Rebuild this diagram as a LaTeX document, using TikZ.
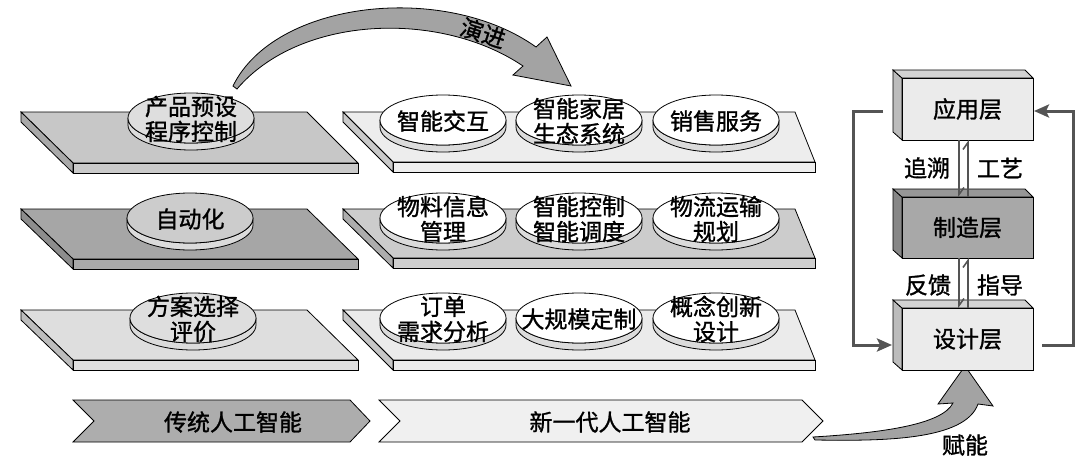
\documentclass[tikz,border=0pt]{standalone}
\usepackage{fontspec}
\newfontfamily\cjk{Noto Sans CJK SC}[FakeBold=1.2]
\usetikzlibrary{arrows.meta}
\definecolor{plA}{gray}{0.78}
\definecolor{plB}{gray}{0.65}
\definecolor{plC}{gray}{0.87}
\definecolor{prA}{gray}{0.93}
\definecolor{prB}{gray}{0.80}
\definecolor{prC}{gray}{0.92}
\definecolor{rimc}{gray}{0.86}
\definecolor{arrowgray}{gray}{0.64}
\definecolor{loopgray}{gray}{0.33}
\definecolor{boxL}{gray}{0.92}
\definecolor{boxD}{gray}{0.66}
\definecolor{chevD}{gray}{0.68}
\definecolor{chevL}{gray}{0.94}
\newcommand\mydisc[3]{%
  \filldraw[fill=rimc,line width=0.8pt] (#1-63,#2) -- (#1-63,#2+7)
    arc[start angle=180,end angle=0,x radius=63,y radius=25] -- (#1+63,#2)
    arc[start angle=0,end angle=180,x radius=63,y radius=25] -- cycle;
  \filldraw[fill=#3,line width=0.8pt] (#1,#2) ellipse[x radius=63,y radius=25];
}
\newcommand\plateL[3]{%
  \filldraw[fill=#3,line width=0.8pt] (21,#1) -- (307,#1) -- (358,#2) -- (73,#2) -- cycle;
  \filldraw[fill=#3!85!black,line width=0.8pt] (21,#1) -- (73,#2) -- (73,#2+10) -- (21,#1+10) -- cycle;
  \filldraw[fill=#3!95!white,line width=0.8pt] (73,#2) -- (358,#2) -- (358,#2+10) -- (73,#2+10) -- cycle;
}
\newcommand\plateR[3]{%
  \filldraw[fill=#3,line width=0.8pt] (343,#1) -- (795,#1) -- (815,#2) -- (393,#2) -- cycle;
  \filldraw[fill=#3!85!black,line width=0.8pt] (343,#1) -- (393,#2) -- (393,#2+10) -- (343,#1+10) -- cycle;
  \filldraw[fill=#3!95!white,line width=0.8pt] (393,#2) -- (815,#2) -- (815,#2+10) -- (393,#2+10) -- cycle;
}
% #1 top y of front, #2 bottom y of front, #3 fill
\newcommand\layerbox[3]{%
  \filldraw[fill=#3!80!black,line width=0.8pt] (893,#1-8) -- (902,#1) -- (902,#2) -- (893,#2-8) -- cycle;
  \filldraw[fill=#3!90!black,line width=0.8pt] (893,#1-8) -- (1025,#1-8) -- (1033,#1) -- (902,#1) -- cycle;
}
\tikzset{
  lbl/.style={font=\cjk\fontsize{23}{25}\selectfont, align=center, inner sep=0pt},
  frontbox/.style={draw, line width=0.8pt, minimum width=131pt, inner sep=0pt},
  loopline/.style={draw=loopgray, line width=3pt, -{Stealth[length=15pt,width=13pt,inset=3pt]}},
  harp/.style={draw=loopgray, line width=1.6pt},
  bigarrow/.style={fill=arrowgray, draw=black, line width=0.8pt},
}
\begin{document}
\begin{tikzpicture}[x=1pt,y=-1pt]
\useasboundingbox (0,0) rectangle (1080,458);
\fill[white] (0,0) rectangle (1080,458);

% ---- plates
\plateL{112}{163}{plA}
\plateL{209}{259}{plB}
\plateL{310}{360}{plC}
\plateR{112}{162}{prA}
\plateR{209}{258}{prB}
\plateR{310}{360}{prC}

% ---- discs
\mydisc{191}{118}{black!13}
\mydisc{190}{218}{black!20}
\mydisc{193}{318}{black!13}
\foreach \cy in {120,218,318}{
  \mydisc{443}{\cy}{white}
  \mydisc{579}{\cy}{white}
  \mydisc{716}{\cy}{white}
}

\node[lbl] (a1) at (191,119) {产品预设\\程序控制};
\node[lbl] (a2) at (190,219) {自动化};
\node[lbl] (a3) at (193,319) {方案选择\\评价};

\node[lbl] (b11) at (443,121) {智能交互};
\node[lbl] (b12) at (579,121) {智能家居\\生态系统};
\node[lbl] (b13) at (716,121) {销售服务};
\node[lbl] (b21) at (443,219) {物料信息\\管理};
\node[lbl] (b22) at (579,219) {智能控制\\智能调度};
\node[lbl] (b23) at (716,219) {物流运输\\规划};
\node[lbl] (b31) at (443,319) {订单\\需求分析};
\node[lbl] (b32) at (579,319) {大规模定制};
\node[lbl] (b33) at (716,319) {概念创新\\设计};

% ---- evolution arrow
\path[bigarrow] (233,86) .. controls (275,0) and (445,-18) .. (536,47)
  -- (547,37) -- (571,86) -- (513,75) -- (523,66)
  .. controls (440,10) and (300,15) .. (237,89) -- cycle;
\node[lbl, rotate=-18] (evo) at (483,33) {演进};

% ---- chevrons
\filldraw[fill=chevD,line width=0.8pt] (73,400) -- (350,400) -- (370,421) -- (350,442) -- (73,442) -- (94,421) -- cycle;
\filldraw[fill=chevL,line width=0.8pt] (379,400) -- (802,400) -- (823,421) -- (802,442) -- (379,442) -- (400,421) -- cycle;
\node[lbl] (c1) at (233,422) {传统人工智能};
\node[lbl] (c2) at (610,422) {新一代人工智能};

% ---- empowering arrow
\path[bigarrow] (813,437) .. controls (880,433) and (942,425) .. (953,403)
  -- (938,404) -- (965,366) -- (993,406) -- (978,404)
  .. controls (965,441) and (880,441) .. (815,440) -- cycle;
\node[lbl] (fn) at (965,445) {赋能};

% ---- layer boxes
\layerbox{78}{140}{boxL}
\layerbox{197}{258}{boxD}
\layerbox{308}{370}{boxL}
\node[frontbox, fill=boxL, minimum height=62pt] (app) at (967.5,109) {};
\node[frontbox, fill=boxD, minimum height=61pt] (mfg) at (967.5,227.5) {};
\node[frontbox, fill=boxL, minimum height=62pt] (des) at (967.5,339) {};
\node[lbl] (appt) at (app) {应用层};
\node[lbl] (mfgt) at (mfg) {制造层};
\node[lbl] (dest) at (des) {设计层};

% ---- inner harpoons
\coordinate (h1s) at (959,140); \coordinate (h1e) at (959,197);
\coordinate (h2s) at (968,197); \coordinate (h2e) at (968,140);
\coordinate (h3s) at (959,258); \coordinate (h3e) at (959,308);
\coordinate (h4s) at (968,308); \coordinate (h4e) at (968,258);
\draw[harp,-{Straight Barb[harpoon,length=7pt,width=10pt]}] (h1s) -- (h1e);
\draw[harp,-{Straight Barb[harpoon,length=7pt,width=10pt]}] (h2s) -- (h2e);
\draw[harp,-{Straight Barb[harpoon,length=7pt,width=10pt]}] (h3s) -- (h3e);
\draw[harp,-{Straight Barb[harpoon,length=7pt,width=10pt]}] (h4s) -- (h4e);
\node[lbl] (t1) at (927,168) {追溯};
\node[lbl] (t2) at (1000,168) {工艺};
\node[lbl] (t3) at (928,285) {反馈};
\node[lbl] (t4) at (1000,285) {指导};

% ---- outer loop
\coordinate (l1) at (883,111);
\coordinate (l2) at (892,345);
\coordinate (r1) at (1042,345);
\coordinate (r2) at (1034,111);
\draw[loopline] (l1) -- (853,111) -- (853,345) -- (l2);
\draw[loopline] (r1) -- (1073,345) -- (1073,111) -- (r2);
\end{tikzpicture}
\end{document}
